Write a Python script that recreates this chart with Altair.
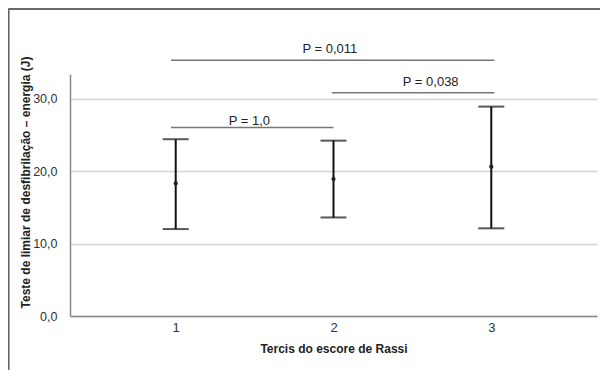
import altair as alt
import pandas as pd

# ---- data ----
groups = [1, 2, 3]
means = [18.3, 18.9, 20.6]
lows = [12.0, 13.6, 12.1]
highs = [24.4, 24.2, 28.9]

bracket_labels = ["P = 0,011", "P = 0,038", "P = 1,0"]
bracket_start = [0.97, 1.99, 0.97]
bracket_end = [3.02, 3.02, 2.00]
bracket_level = [35.3, 30.8, 26.0]
label_x = [1.977, 2.616, 1.467]
label_y = [36.8, 32.3, 26.9]

y_ticks = [0, 10, 20, 30]

df = pd.DataFrame({"grupo": groups, "media": means, "lo": lows, "hi": highs})
br = pd.DataFrame({
    "label": bracket_labels, "x1": bracket_start, "x2": bracket_end,
    "y": bracket_level, "lx": label_x, "ly": label_y,
})

W, H = 527, 242
PAD_L, PAD_T, PAD_R, PAD_B = 62, 66, 3, 54

xs = alt.Scale(domain=[0.33, 3.67], nice=False, zero=False)
ys = alt.Scale(domain=[0, 33.4], nice=False)

x_axis = alt.Axis(
    values=groups, format="d", title="Tercis do escore de Rassi",
    grid=False, ticks=False, labelPadding=5, titleY=32, titleBaseline="middle",
)
y_axis = alt.Axis(
    values=y_ticks, title="Teste de limiar de desfibrilação – energia (J)",
    labelExpr="replace(format(datum.value, '.1f'), '.', ',')",
    grid=True, ticks=False, labelPadding=13,
    titleX=-45, titleY=108, titleBaseline="middle",
)

base = alt.Chart(df)

bars = base.mark_rule(color="#111111", strokeWidth=2).encode(
    x=alt.X("grupo:Q", scale=xs, axis=x_axis),
    y=alt.Y("lo:Q", scale=ys, axis=y_axis),
    y2="hi:Q",
)
cap_hi = base.mark_tick(color="#111111", size=26, thickness=2, orient="horizontal").encode(
    x=alt.X("grupo:Q", scale=xs), y=alt.Y("hi:Q", scale=ys)
)
cap_lo = base.mark_tick(color="#111111", size=26, thickness=2, orient="horizontal").encode(
    x=alt.X("grupo:Q", scale=xs), y=alt.Y("lo:Q", scale=ys)
)
dots = base.mark_circle(color="#222222", size=18, opacity=1).encode(
    x=alt.X("grupo:Q", scale=xs), y=alt.Y("media:Q", scale=ys)
)

bch = alt.Chart(br)
brackets = bch.mark_rule(color="#777777", strokeWidth=1.5, clip=False).encode(
    x=alt.X("x1:Q", scale=xs), x2="x2:Q", y=alt.Y("y:Q", scale=ys)
)
blabels = bch.mark_text(
    font="Liberation Sans", fontSize=13, color="#222222", baseline="middle", clip=False
).encode(
    x=alt.X("lx:Q", scale=xs), y=alt.Y("ly:Q", scale=ys), text="label:N"
)

frame_left = alt.Chart(df).mark_rule(color="#666666", strokeWidth=1.5, clip=False).encode(
    x=alt.value(-PAD_L + 0.5), y=alt.value(-PAD_T + 1), y2=alt.value(H + PAD_B)
)
frame_top = alt.Chart(df).mark_rule(color="#666666", strokeWidth=1.5, clip=False).encode(
    x=alt.value(-PAD_L + 0.5), x2=alt.value(W + PAD_R), y=alt.value(-PAD_T + 1)
)

chart = alt.layer(
    frame_left, frame_top, bars, cap_hi, cap_lo, dots, brackets, blabels
).properties(
    width=W, height=H,
    autosize=alt.AutoSizeParams(type="none"),
    padding={"left": PAD_L, "top": PAD_T, "right": PAD_R, "bottom": PAD_B},
).configure_view(
    stroke=None
).configure_axis(
    domainColor="#888888", domainWidth=1.5,
    gridColor="#d4d4d4", gridWidth=1.5,
    labelFont="Liberation Sans Narrow, Liberation Sans, Arial",
    labelFontSize=12.5, labelColor="#333333",
    titleFont="Liberation Sans", titleFontSize=12, titleFontWeight="bold",
    titleColor="#222222",
).configure_axisX(
    labelFont="Liberation Sans", labelFontSize=13,
)

chart.save("out.html", embed_options={"renderer": "svg", "actions": False})
